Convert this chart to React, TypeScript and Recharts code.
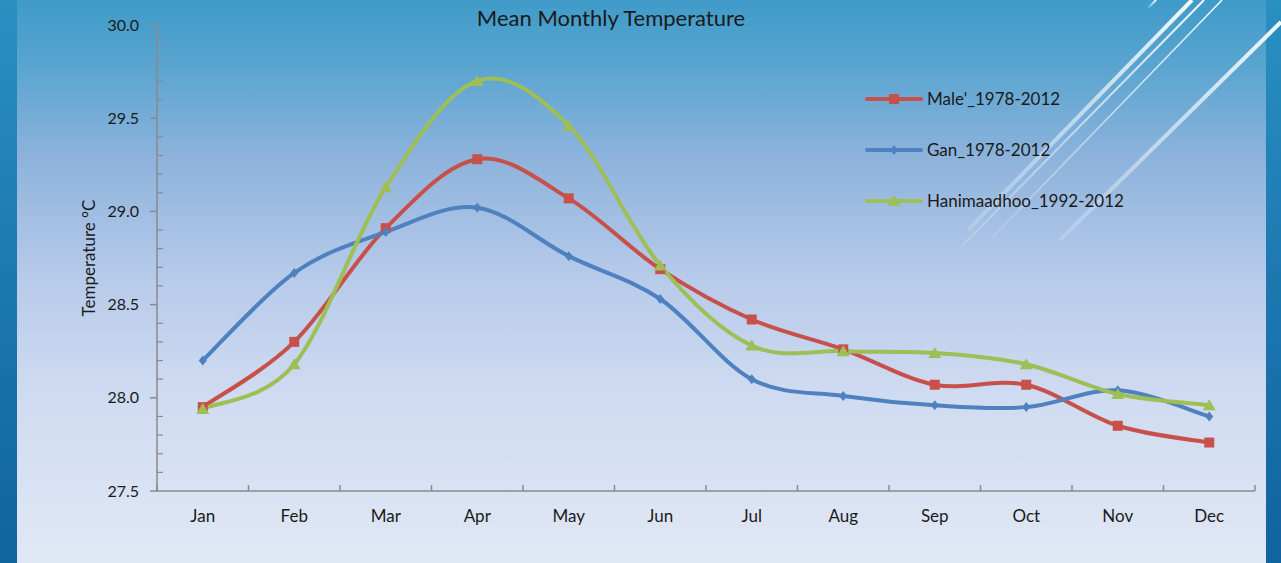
import { Legend, Line, LineChart, XAxis, YAxis } from "recharts";

const MONTHS = ["Jan", "Feb", "Mar", "Apr", "May", "Jun", "Jul", "Aug", "Sep", "Oct", "Nov", "Dec"];
const MALE = [27.95, 28.3, 28.91, 29.28, 29.07, 28.69, 28.42, 28.26, 28.07, 28.07, 27.85, 27.76];
const GAN = [28.2, 28.67, 28.89, 29.02, 28.76, 28.53, 28.1, 28.01, 27.96, 27.95, 28.04, 27.9];
const HANI = [27.94, 28.18, 29.13, 29.7, 29.46, 28.71, 28.28, 28.25, 28.24, 28.18, 28.02, 27.96];

const Y_TICKS = [27.5, 28, 28.5, 29, 29.5, 30];
const Y_MINOR = [27.6, 27.7, 27.8, 27.9, 28.1, 28.2, 28.3, 28.4, 28.6, 28.7, 28.8, 28.9, 29.1, 29.2, 29.3, 29.4, 29.6, 29.7, 29.8, 29.9];
const X_BOUNDS = [0, 1, 2, 3, 4, 5, 6, 7, 8, 9, 10, 11, 12];

const SERIES = [
  { key: "male", name: "Male'_1978-2012", color: "#C8504B", shape: "square" },
  { key: "gan", name: "Gan_1978-2012", color: "#4E81BF", shape: "diamond" },
  { key: "hani", name: "Hanimaadhoo_1992-2012", color: "#9DBF55", shape: "triangle" },
];

const data = MONTHS.map((m, i) => ({
  x: i + 0.5,
  month: m,
  male: MALE[i],
  gan: GAN[i],
  hani: HANI[i],
}));

const FONT = "Lato, 'Open Sans', sans-serif";
const AXIS = "#8a8a8a";
const TEXT = "#1a1a1a";

// Excel-style smoothed line (Catmull-Rom as cubic beziers).
function smoothCurve(context: any) {
  let pts: number[][] = [];
  return {
    areaStart() {},
    areaEnd() {},
    lineStart() {
      pts = [];
    },
    lineEnd() {
      const n = pts.length;
      if (!n) return;
      context.moveTo(pts[0][0], pts[0][1]);
      for (let i = 0; i < n - 1; i++) {
        const p0 = pts[i - 1] ?? pts[i];
        const p1 = pts[i];
        const p2 = pts[i + 1];
        const p3 = pts[i + 2] ?? pts[i + 1];
        context.bezierCurveTo(
          p1[0] + (p2[0] - p0[0]) / 6,
          p1[1] + (p2[1] - p0[1]) / 6,
          p2[0] - (p3[0] - p1[0]) / 6,
          p2[1] - (p3[1] - p1[1]) / 6,
          p2[0],
          p2[1]
        );
      }
    },
    point(x: number, y: number) {
      pts.push([+x, +y]);
    },
  };
}

function Marker({ cx, cy, shape, color }: { cx: number; cy: number; shape: string; color: string }) {
  if (shape === "square") {
    return <rect x={cx - 5} y={cy - 5} width={10} height={10} fill={color} />;
  }
  if (shape === "diamond") {
    return <path d={`M${cx},${cy - 5}L${cx + 4},${cy}L${cx},${cy + 5}L${cx - 4},${cy}Z`} fill={color} />;
  }
  return <path d={`M${cx},${cy - 6}L${cx + 6.5},${cy + 5}L${cx - 6.5},${cy + 5}Z`} fill={color} />;
}

function renderLegend() {
  return (
    <div style={{ fontFamily: FONT, fontSize: 17, color: TEXT }}>
      {SERIES.map((s) => (
        <div key={s.key} style={{ display: "flex", alignItems: "center", height: 51 }}>
          <svg width={58} height={16} style={{ marginRight: 4 }}>
            <line x1={2} y1={8} x2={56} y2={8} stroke={s.color} strokeWidth={4} strokeLinecap="round" />
            <Marker cx={29} cy={8} shape={s.shape} color={s.color} />
          </svg>
          <span>{s.name}</span>
        </div>
      ))}
    </div>
  );
}

function Decoration() {
  const lines = [
    { x1: 1192, y1: 0, x2: 968, y2: 230, w: 4 },
    { x1: 1204, y1: 0, x2: 962, y2: 246, w: 2 },
    { x1: 1222, y1: 0, x2: 992, y2: 238, w: 1.5 },
    { x1: 1281, y1: 22, x2: 1060, y2: 240, w: 4 },
    { x1: 1156, y1: 0, x2: 1148, y2: 8, w: 2 },
  ];
  return (
    <svg width={1281} height={563} style={{ position: "absolute", left: 0, top: 0 }}>
      <defs>
        <linearGradient id="fade" x1="1" y1="0" x2="0" y2="1">
          <stop offset="0%" stopColor="#ffffff" stopOpacity={0.95} />
          <stop offset="100%" stopColor="#ffffff" stopOpacity={0.15} />
        </linearGradient>
      </defs>
      {lines.map((l, i) => (
        <line key={i} x1={l.x1} y1={l.y1} x2={l.x2} y2={l.y2} stroke="url(#fade)" strokeWidth={l.w} />
      ))}
    </svg>
  );
}

export default function App() {
  return (
    <div
      style={{
        position: "relative",
        width: 1281,
        height: 563,
        overflow: "hidden",
        background: "linear-gradient(180deg, #2990c2 0%, #1d78b0 50%, #10639f 100%)",
      }}
    >
      <style>{`body{margin:0}`}</style>
      <div
        style={{
          position: "absolute",
          left: 17,
          top: 0,
          width: 1249,
          height: 563,
          background:
            "linear-gradient(180deg, #3f9bc8 0%, #5aa5d0 12%, #8db3dc 28%, #b8cbea 50%, #cfdbf1 70%, #e1e8f5 100%)",
        }}
      />
      <Decoration />
      <div
        style={{
          position: "absolute",
          left: 0,
          width: 1222,
          top: 4,
          textAlign: "center",
          fontFamily: FONT,
          fontSize: 22,
          color: TEXT,
        }}
      >
        Mean Monthly Temperature
      </div>
      <div style={{ position: "absolute", left: 0, top: 0 }}>
        <LineChart width={1281} height={563} data={data} margin={{ top: 25, right: 26, bottom: 32, left: 21 }}>
          <XAxis
            dataKey="x"
            type="number"
            domain={[0, 12]}
            ticks={data.map((d) => d.x)}
            tickFormatter={(v: number) => MONTHS[Math.floor(v)]}
            tickLine={false}
            tickSize={0}
            tickMargin={19}
            height={40}
            axisLine={{ stroke: AXIS, strokeWidth: 1.5 }}
            tick={{ fill: TEXT, fontSize: 17, fontFamily: FONT }}
            allowDataOverflow
          />
          <XAxis
            xAxisId="bounds"
            dataKey="x"
            type="number"
            domain={[0, 12]}
            ticks={X_BOUNDS}
            mirror
            axisLine={false}
            tickLine={{ stroke: AXIS, strokeWidth: 1.5 }}
            tickSize={6}
            tickFormatter={() => ""}
            allowDataOverflow
          />
          <YAxis
            domain={[27.5, 30]}
            ticks={Y_TICKS}
            tickFormatter={(v: number) => v.toFixed(1)}
            width={136}
            tickSize={7}
            tickMargin={11}
            axisLine={{ stroke: AXIS, strokeWidth: 1.5 }}
            tickLine={{ stroke: AXIS, strokeWidth: 1.5 }}
            tick={{ fill: TEXT, fontSize: 16, fontFamily: FONT }}
            allowDataOverflow
            label={{
              value: "Temperature °C",
              angle: -90,
              position: "center",
              fill: TEXT,
              fontSize: 17,
              fontFamily: FONT,
            }}
          />
          <YAxis
            yAxisId="minor"
            domain={[27.5, 30]}
            ticks={Y_MINOR}
            mirror
            axisLine={false}
            tickLine={{ stroke: AXIS, strokeWidth: 1.2 }}
            tickSize={6}
            tickFormatter={() => ""}
            allowDataOverflow
          />
          <Legend
            layout="vertical"
            align="center"
            verticalAlign="middle"
            wrapperStyle={{ left: 865, top: 73, width: 320 }}
            content={renderLegend}
          />
          {SERIES.map((s) => (
            <Line
              key={s.key}
              dataKey={s.key}
              name={s.name}
              type={smoothCurve as any}
              stroke={s.color}
              strokeWidth={4}
              dot={(p: any) => <Marker key={`${s.key}-${p.index}`} cx={p.cx} cy={p.cy} shape={s.shape} color={s.color} />}
              activeDot={false}
              isAnimationActive={false}
            />
          ))}
        </LineChart>
      </div>
    </div>
  );
}
